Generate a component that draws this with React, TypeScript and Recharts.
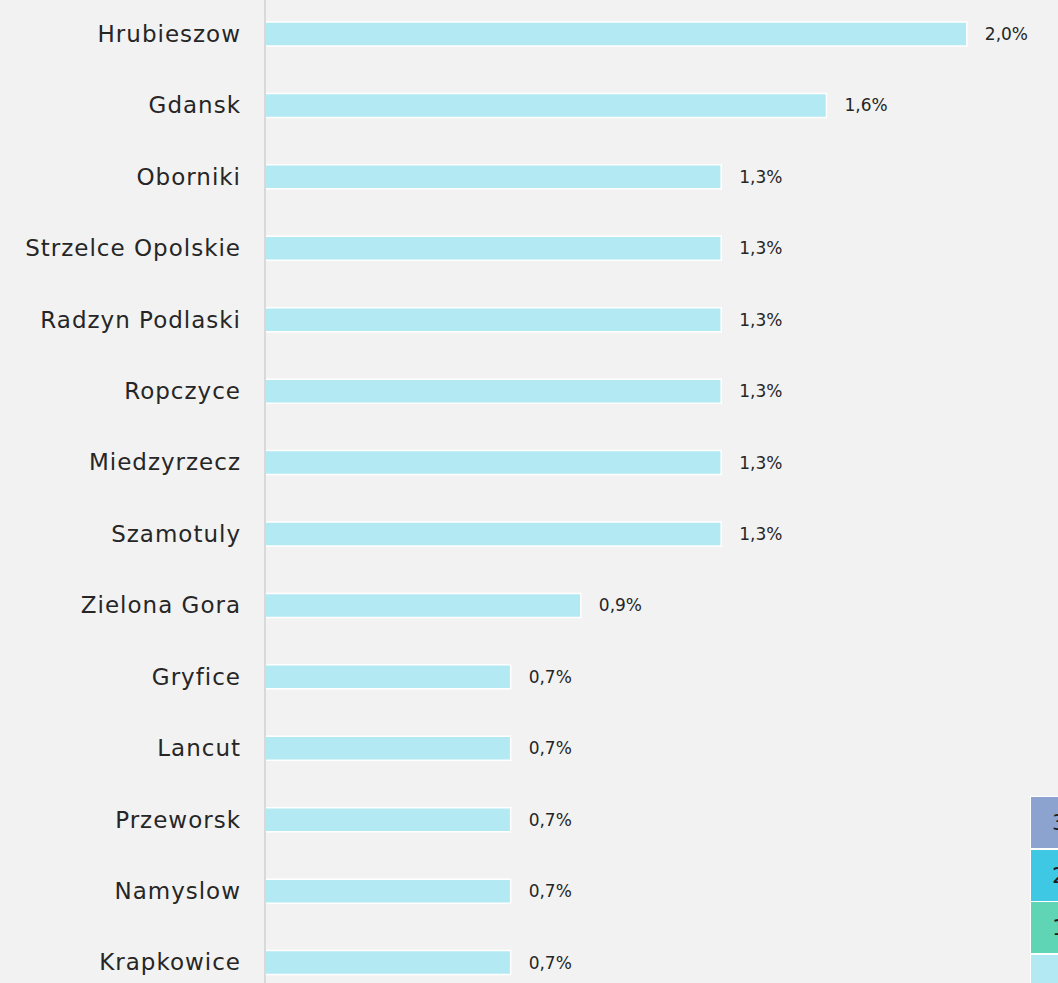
import React from "react";
import { BarChart, Bar, XAxis, YAxis, LabelList } from "recharts";

// Category labels, top to bottom.
const cities = [
  "Hrubieszow",
  "Gdansk",
  "Oborniki",
  "Strzelce Opolskie",
  "Radzyn Podlaski",
  "Ropczyce",
  "Miedzyrzecz",
  "Szamotuly",
  "Zielona Gora",
  "Gryfice",
  "Lancut",
  "Przeworsk",
  "Namyslow",
  "Krapkowice",
];

// Share in percent for each city.
const shares = [2.0, 1.6, 1.3, 1.3, 1.3, 1.3, 1.3, 1.3, 0.9, 0.7, 0.7, 0.7, 0.7, 0.7];

// Partially visible legend in the lower right corner.
const legendLabels = ["3", "2", "1", ""];
const legendColors = ["#8ca3d0", "#3ec8e4", "#5fd5b6", "#b2e9f3"];

const data = cities.map((city, i) => ({ city, share: shares[i] }));

const fontFamily = "'DejaVu Sans', sans-serif";
const formatPct = (v: number) => v.toFixed(1).replace(".", ",") + "%";

const App: React.FC = () => {
  return (
    <div
      style={{
        position: "absolute",
        left: 0,
        top: 0,
        width: 1058,
        height: 983,
        overflow: "hidden",
        background: "#f2f2f2",
        fontFamily,
      }}
    >
      <div style={{ position: "absolute", left: 0, top: -2 }}>
        <BarChart
          layout="vertical"
          width={1058}
          height={1000}
          data={data}
          margin={{ top: 0, right: 21, bottom: 0, left: 0 }}
          barCategoryGap={0}
        >
          <XAxis type="number" domain={[0, 2.2]} hide />
          <YAxis
            type="category"
            dataKey="city"
            width={265}
            axisLine={{ stroke: "#d9d9d9", strokeWidth: 2 }}
            tickLine={false}
            tickSize={0}
            tickMargin={24}
            tick={{ fontSize: 23, fill: "#262626", fontFamily, letterSpacing: 1 }}
            interval={0}
          />
          <Bar
            dataKey="share"
            fill="#b2e9f3"
            stroke="#ffffff"
            strokeWidth={1.5}
            barSize={24}
            isAnimationActive={false}
          >
            <LabelList
              dataKey="share"
              position="right"
              offset={18}
              formatter={(v: any) => formatPct(Number(v))}
              style={{ fontSize: 17, fill: "#262626", fontFamily }}
            />
          </Bar>
        </BarChart>
      </div>
      {legendLabels.map((label, i) => (
        <div
          key={i}
          style={{
            position: "absolute",
            left: 1031,
            top: 797 + i * 52.5,
            width: 56,
            height: 51,
            background: legendColors[i],
            outline: "1px solid #ffffff",
            display: "flex",
            alignItems: "center",
            justifyContent: "center",
            fontSize: 22,
            color: "#1a1a1a",
          }}
        >
          {label}
        </div>
      ))}
    </div>
  );
};

export default App;
